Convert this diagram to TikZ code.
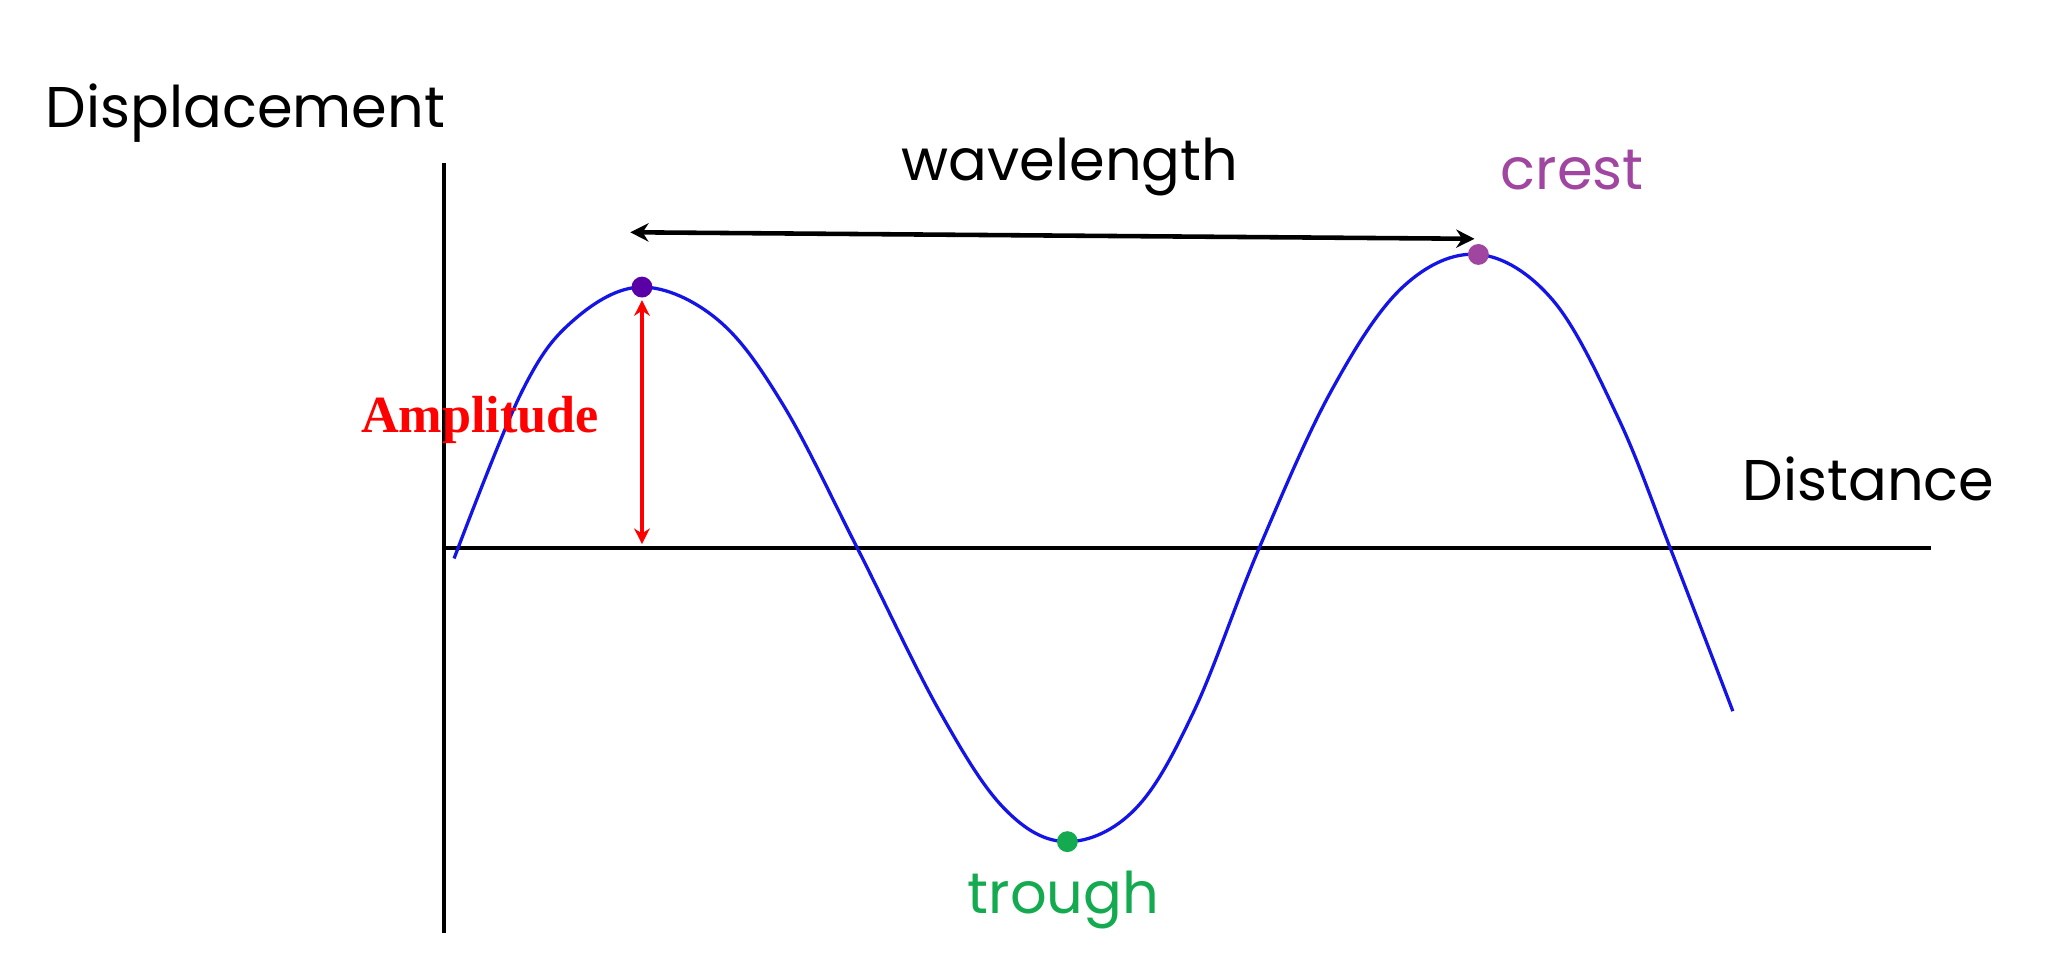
\documentclass[tikz,border=0pt]{standalone}
\usepackage{fontspec}
\setmainfont{Poppins}
\newfontfamily\timesf{Liberation Serif}
\usetikzlibrary{arrows.meta}
\definecolor{crestc}{RGB}{160,70,160}
\definecolor{troughc}{RGB}{20,170,80}
\definecolor{wavec}{RGB}{20,20,230}
\tikzset{lbl/.style={font=\fontsize{44}{50}\selectfont,inner sep=0pt},
 dot/.style={circle,inner sep=0pt,minimum size=16pt}}
\begin{document}
\begin{tikzpicture}[x=1pt,y=-1pt]
\useasboundingbox[fill=white] (0,0) rectangle (1568,748);
\coordinate (yt) at (340,125); \coordinate (yb) at (340,715);
\coordinate (xl) at (340,420); \coordinate (xr) at (1480,420);
\draw[line width=3pt] (yt) -- (yb);
\draw[line width=3pt] (xl) -- (xr);
\draw[wavec,line width=2.5pt] plot[smooth,tension=0.6] coordinates {(348,428) (400,300) (440,245) (492,220) (550,245) (600,310) (657,420) (720,545) (770,620) (818,645) (870,620) (915,545) (965,420) (1020,300) (1075,220) (1133,195) (1190,230) (1240,320) (1280,420) (1328,545)};
\node[dot,fill=violet!70!blue] (c1) at (492,220) {};
\node[dot,fill=crestc] (c2) at (1133,195) {};
\node[dot,fill=troughc] (tr) at (818,645) {};
\coordinate (wl) at (483,178); \coordinate (wr) at (1130,183);
\draw[line width=3.5pt,{Stealth[length=14pt,width=14pt]}-{Stealth[length=14pt,width=14pt]}] (wl) -- (wr);
\coordinate (at) at (492,230); \coordinate (ab) at (492,417);
\draw[red,line width=3pt,{Stealth[length=12pt,width=12pt]}-{Stealth[length=12pt,width=12pt]}] (at) -- (ab);
\node[lbl,anchor=base west] (disp) at (35,98) {Displacement};
\node[lbl] (wlt) at (820,128) {wavelength};
\node[lbl,text=crestc] (cr) at (1205,130) {crest};
\node[lbl] (dist) at (1432,367) {Distance};
\node[lbl,text=troughc] (trt) at (815,690) {trough};
\node[red,font=\timesf\bfseries\fontsize{40}{44}\selectfont,inner sep=0pt] (amp) at (368,322) {Amplitude};
\end{tikzpicture}
\end{document}
